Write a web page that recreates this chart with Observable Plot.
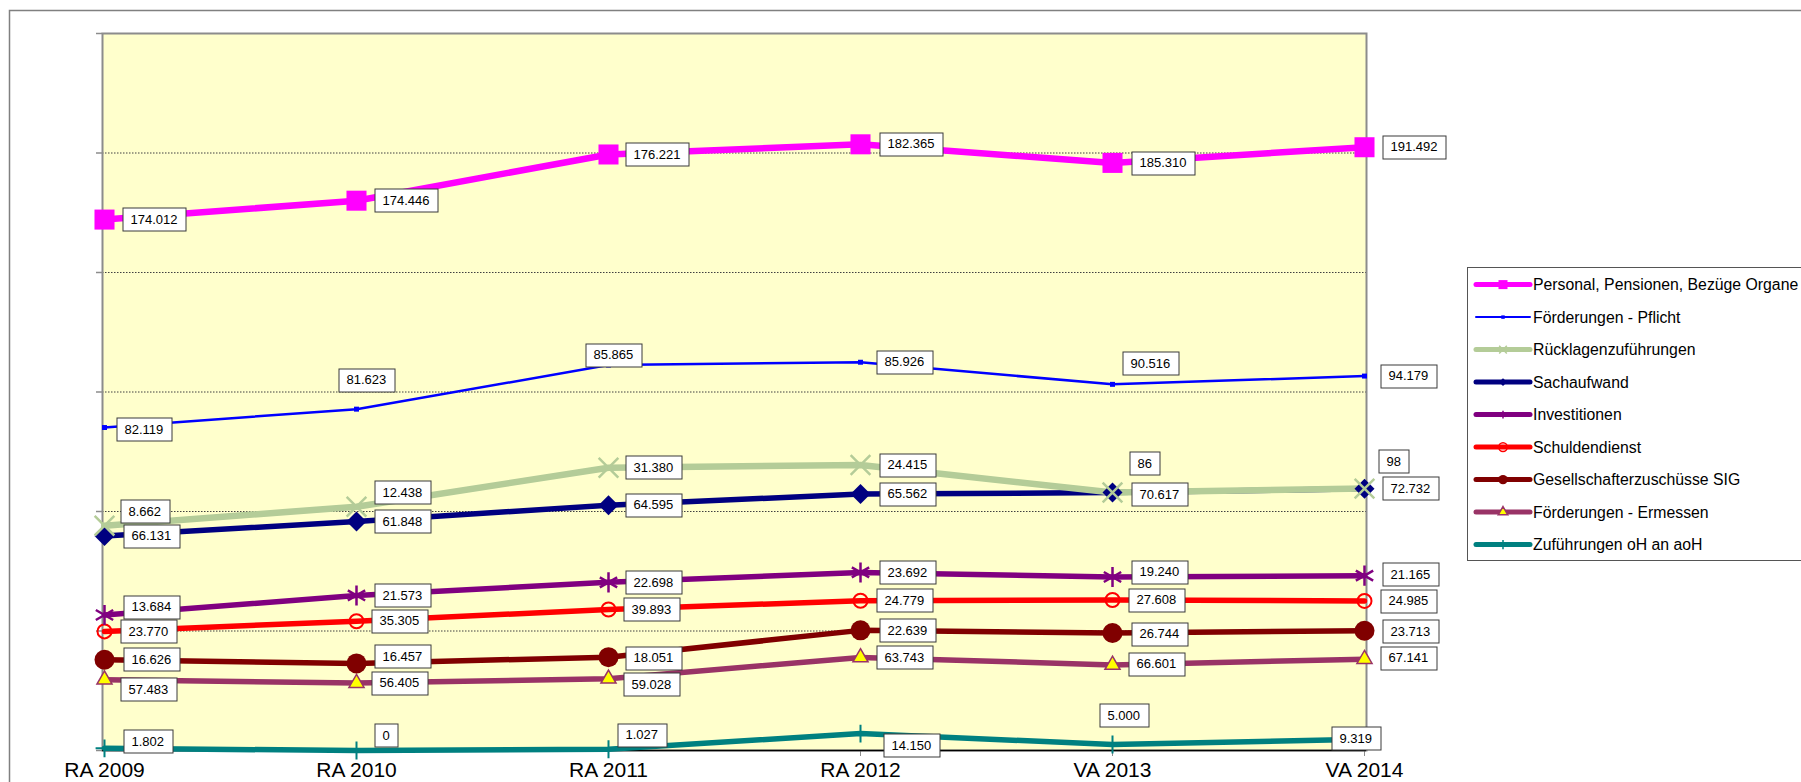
<!DOCTYPE html>
<html>
<head>
<meta charset="utf-8">
<script src="https://cdn.jsdelivr.net/npm/d3@7"></script>
<script src="https://cdn.jsdelivr.net/npm/@observablehq/plot@0.6"></script>
<style>
  html, body { margin: 0; padding: 0; background: #fff; overflow: hidden; }
  svg { display: block; }
</style>
</head>
<body>
<div id="chart"></div>
<script>
// ---------- data ----------
const categories = ["RA 2009", "RA 2010", "RA 2011", "RA 2012", "VA 2013", "VA 2014"];
const seriesNames = [
  "Personal, Pensionen, Bezüge Organe",
  "Förderungen - Pflicht",
  "Rücklagenzuführungen",
  "Sachaufwand",
  "Investitionen",
  "Schuldendienst",
  "Gesellschafterzuschüsse SIG",
  "Förderungen - Ermessen",
  "Zuführungen oH an aoH"
];
const personal        = [174012, 174446, 176221, 182365, 185310, 191492];
const foerderPflicht  = [82119, 81623, 85865, 85926, 90516, 94179];
const ruecklagen      = [8662, 12438, 31380, 24415, 86, 98];
const sachaufwand     = [66131, 61848, 64595, 65562, 70617, 72732];
const investitionen   = [13684, 21573, 22698, 23692, 19240, 21165];
const schuldendienst  = [23770, 35305, 39893, 24779, 27608, 24985];
const gesellschafter  = [16626, 16457, 18051, 22639, 26744, 23713];
const foerderErmessen = [57483, 56405, 59028, 63743, 66601, 67141];
const zufuehrungen    = [1802, 0, 1027, 14150, 5000, 9319];
const seriesValues = [personal, foerderPflicht, ruecklagen, sachaufwand, investitionen,
                      schuldendienst, gesellschafter, foerderErmessen, zufuehrungen];
const yGridValues = [100000, 200000, 300000, 400000, 500000];
const yTickValues = [0, 100000, 200000, 300000, 400000, 500000, 600000];

// ---------- styles (per series, legend order) ----------
const seriesStyle = [
  {color: "#FF00FF", width: 6.5, symbol: "square",   r: 11.3, fill: "#FF00FF", stroke: "none",    sw: 0,   lw: 5, leg: {type: d3.symbolSquare, size: 81, fill: "#FF00FF", stroke: "none"}},
  {color: "#0000FF", width: 2.5, symbol: "square",   r: 2.8,  fill: "#0000FF", stroke: "none",    sw: 0,   lw: 2, leg: {type: d3.symbolSquare, size: 12, fill: "#0000FF", stroke: "none"}},
  {color: "#B4CC98", width: 6.5, symbol: "times",    r: 9,    fill: "none",    stroke: "#B4CC98", sw: 2.5, lw: 5, leg: {type: d3.symbolTimes, size: 40, fill: "none", stroke: "#B4CC98"}},
  {color: "#000080", width: 5.5, symbol: "diamond2", r: 9,    fill: "#000080", stroke: "none",    sw: 0,   lw: 5, leg: {type: d3.symbolDiamond2, size: 40, fill: "#000080", stroke: "none"}},
  {color: "#800080", width: 5.5, symbol: "asterisk", r: 9.5,  fill: "none",    stroke: "#800080", sw: 2.5, lw: 5, leg: {type: d3.symbolAsterisk, size: 40, fill: "none", stroke: "#800080"}},
  {color: "#FF0000", width: 5.5, symbol: "circle",   r: 7,    fill: "none",    stroke: "#FF0000", sw: 2,   lw: 5, leg: {type: d3.symbolCircle, size: 60, fill: "none", stroke: "#FF0000"}},
  {color: "#800000", width: 5.5, symbol: "circle",   r: 10,   fill: "#800000", stroke: "none",    sw: 0,   lw: 5, leg: {type: d3.symbolCircle, size: 70, fill: "#800000", stroke: "none"}},
  {color: "#993366", width: 5.5, symbol: "triangle", r: 5.6,  fill: "#FFFF00", stroke: "#993366", sw: 1.5, lw: 5, leg: {type: d3.symbolTriangle, size: 40, fill: "#FFFF00", stroke: "#993366"}},
  {color: "#008080", width: 5.5, symbol: "plus",     r: 5.8,  fill: "none",    stroke: "#008080", sw: 2,   lw: 5, leg: {type: d3.symbolPlus, size: 30, fill: "none", stroke: "#008080"}}
];

// label placement (box left offset, vertical offset) in px, per series / category
const labelNudges = [
  [[18,0],[18,0],[17,0],[19,0],[19,0],[18,0]],
  [[12,2],[-18,-29],[-23,-10],[16,0],[10,-21],[16,0]],
  [[16,-14],[18,-14],[17,0],[19,0],[17,-29],[14,-27]],
  [[19,0],[18,0],[17,0],[19,0],[19,2],[18,0]],
  [[19,-8],[18,0],[17,0],[19,0],[19,-5],[18,-1]],
  [[16,0],[15,0],[15,0],[16,0],[16,0],[16,0]],
  [[19,0],[18,-7],[17,1],[19,0],[19,1],[18,1]],
  [[16,10],[15,0],[15,6],[16,0],[16,-1],[16,-1]],
  [[19,-7],[18,-15],[9,-14],[23,12],[-13,-29],[-33,-1]]
];

// ---------- stacked rows (stacked line chart, bottom series = last in legend) ----------
const rows = [];
const cum = categories.map(() => 0);
for (let s = seriesNames.length - 1; s >= 0; s--) {
  seriesValues[s].forEach((v, i) => {
    cum[i] += v;
    rows.push({s, i, series: seriesNames[s], cat: categories[i], value: v, top: cum[i]});
  });
}
const de = d3.formatLocale({decimal: ",", thousands: ".", grouping: [3], currency: ["", " €"]});
const fmt = de.format(",d");

const font = "'Liberation Sans', Arial, Helvetica, sans-serif";

const seriesMarks = [];
for (let s = seriesNames.length - 1; s >= 0; s--) {
  const st = seriesStyle[s];
  const data = rows.filter(d => d.s === s);
  seriesMarks.push(Plot.line(data, {x: "cat", y: "top", stroke: st.color, strokeWidth: st.width, strokeLinejoin: "round"}));
}
for (let s = seriesNames.length - 1; s >= 0; s--) {
  const st = seriesStyle[s];
  const data = rows.filter(d => d.s === s);
  seriesMarks.push(Plot.dot(data, {x: "cat", y: "top", symbol: st.symbol, r: st.r, fill: st.fill, stroke: st.stroke, strokeWidth: st.sw}));
}

const labelRows = rows;

const plot = Plot.plot({
  width: 1801,
  height: 782,
  marginLeft: 102,
  marginRight: 435,
  marginTop: 33,
  marginBottom: 32,
  style: {fontFamily: font, fontSize: "13px", background: "white", color: "black"},
  x: {type: "point", domain: categories, padding: 0, axis: null},
  y: {domain: [0, 600000], axis: null},
  marks: [
    Plot.frame({fill: "#FFFFCC", stroke: "none"}),
    Plot.ruleY(yGridValues, {stroke: "#404040", strokeWidth: 1, strokeDasharray: "1.5,1.5"}),
    Plot.frame({fill: "none", stroke: "#8c8c8c", strokeWidth: 2}),
    Plot.axisY({ticks: yTickValues, tickSize: 6, tickFormat: () => "", stroke: "#8c8c8c", strokeWidth: 1.5, label: null}),
    Plot.axisX({tickSize: 6, tickPadding: 6, fontSize: 21, stroke: "#8c8c8c", fill: "black", label: null}),
    Plot.ruleY([0], {stroke: "#000", strokeWidth: 1.5}),
    ...seriesMarks,
    Plot.text(labelRows, {x: "cat", y: "top", text: d => fmt(d.value), textAnchor: "start", lineAnchor: "middle", fontSize: 13, fill: "black"})
  ]
});

document.getElementById("chart").append(plot);
const svg = plot;
const NS = "http://www.w3.org/2000/svg";

// remove empty y tick labels
svg.querySelectorAll('g[aria-label="y-axis tick label"]').forEach(g => g.remove());

// boxed data labels
const textGroups = svg.querySelectorAll('g[aria-label="text"]');
const textGroup = textGroups[textGroups.length - 1];
const texts = Array.from(textGroup.querySelectorAll("text"));
texts.forEach((t, k) => {
  const d = labelRows[k];
  const [dx, dy] = labelNudges[d.s][d.i];
  const g = document.createElementNS(NS, "g");
  g.setAttribute("transform", `translate(${dx + 8},${dy})`);
  textGroup.insertBefore(g, t);
  g.appendChild(t);
  const b = g.getBBox();
  const cy = b.y + b.height / 2;
  const r = document.createElementNS(NS, "rect");
  r.setAttribute("x", Math.round(b.x - 8) + 0.5);
  r.setAttribute("y", Math.round(cy - 11.5) + 0.5);
  r.setAttribute("width", Math.round(b.width + 16));
  r.setAttribute("height", 23);
  r.setAttribute("fill", "white");
  r.setAttribute("stroke", "#3a3a3a");
  r.setAttribute("stroke-width", 1);
  g.insertBefore(r, t);
});

// outer chart border
const sel = d3.select(svg);
sel.insert("rect", ":first-child")
  .attr("x", 9.5).attr("y", 10.5).attr("width", 1900).attr("height", 900)
  .attr("fill", "white").attr("stroke", "#808080").attr("stroke-width", 1.5);

// legend
const leg = sel.append("g").attr("font-family", font).attr("font-size", 15.8).attr("text-anchor", "start");
leg.append("rect").attr("x", 1467.5).attr("y", 267.5).attr("width", 400).attr("height", 293)
  .attr("fill", "white").attr("stroke", "#555").attr("stroke-width", 1);
seriesNames.forEach((name, k) => {
  const st = seriesStyle[k];
  const y = 284.6 + 32.5 * k;
  leg.append("line").attr("x1", 1476).attr("x2", 1530).attr("y1", y).attr("y2", y)
    .attr("stroke", st.color).attr("stroke-width", st.lw).attr("stroke-linecap", "round");
  leg.append("path").attr("d", d3.symbol(st.leg.type, st.leg.size)())
    .attr("transform", `translate(1503,${y})`)
    .attr("fill", st.leg.fill).attr("stroke", st.leg.stroke).attr("stroke-width", 1.5);
  leg.append("text").attr("x", 1533).attr("y", y).attr("dy", "0.35em").attr("text-anchor", "start").attr("fill", "black").text(name);
});
</script>
</body>
</html>
